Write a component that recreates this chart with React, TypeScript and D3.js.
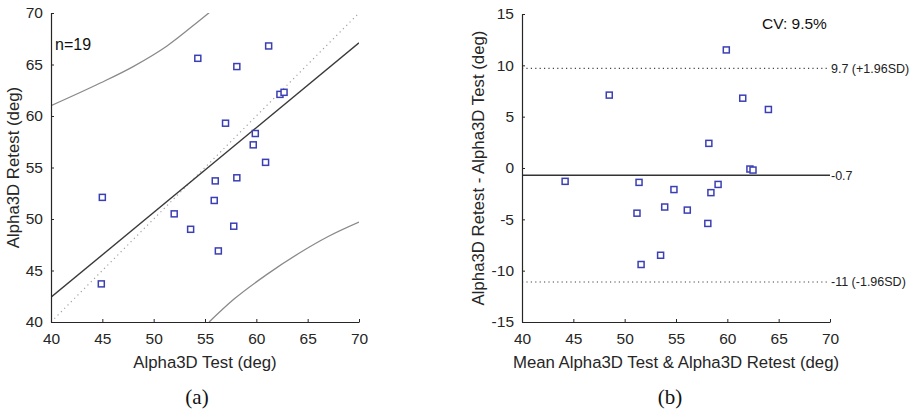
import React, { useRef, useEffect } from "react";
import * as d3 from "d3";

// (a) test vs retest
const testVals = [54.3, 58.1, 61.2, 62.3, 62.7, 57.0, 59.9, 59.7, 60.9, 56.0, 58.1, 45.0, 55.9, 52.0, 53.6, 57.8, 56.3, 44.9];
const retestVals = [65.6, 64.8, 66.8, 62.1, 62.3, 59.3, 58.3, 57.2, 55.5, 53.7, 54.0, 52.1, 51.8, 50.5, 49.0, 49.3, 46.9, 43.7];

const regX = [40, 70];
const regY = [42.4, 67.1];
const identX = [40, 70];
const identY = [40, 70];

const upperX = [40, 44.8, 48.0, 51.3, 54.5, 55.8];
const upperY = [61.0, 63.2, 64.8, 66.8, 69.3, 70.35];
const lowerX = [55.4, 57.8, 61.0, 64.2, 67.0, 70.0];
const lowerY = [40.0, 42.2, 44.6, 46.7, 48.3, 49.7];

// (b) Bland-Altman
const meanVals = [48.5, 59.9, 61.5, 64.0, 58.2, 62.2, 62.5, 44.2, 51.4, 54.8, 58.4, 59.1, 51.2, 53.9, 56.1, 58.1, 53.5, 51.6];
const diffVals = [7.1, 11.5, 6.8, 5.7, 2.4, -0.1, -0.2, -1.3, -1.4, -2.1, -2.4, -1.6, -4.4, -3.8, -4.1, -5.4, -8.5, -9.4];

const baLines = [9.7, -0.7, -11.1];
const baLabels = ["9.7 (+1.96SD)", "-0.7", "-11 (-1.96SD)"];

const xTicks = [40, 45, 50, 55, 60, 65, 70];
const yTicksA = [40, 45, 50, 55, 60, 65, 70];
const yTicksB = [-15, -10, -5, 0, 5, 10, 15];

const W = 916;
const H = 412;
const sans = "'Liberation Sans', Arial, sans-serif";
const axisColor = "#262626";
const markerColor = "#3b3fb4";

const App = () => {
  const container = useRef<SVGSVGElement>(null);

  useEffect(() => {
    const svg = d3.select(container.current);
    svg.selectAll("*").remove();

    const drawAxes = (g, xScale, yScale, yTicks, xTitle, yTitle, yTitleX, caption) => {
      const fmt = (d) => String(d);
      const xaxis = d3.axisBottom(xScale).tickValues(xTicks).tickFormat(fmt).tickSizeInner(-3).tickSizeOuter(0).tickPadding(8);
      const yaxis = d3.axisLeft(yScale).tickValues(yTicks).tickFormat(fmt).tickSizeInner(-3).tickSizeOuter(0).tickPadding(8);
      const [y0] = yScale.range();
      const [x0, x1] = xScale.range();

      const xg = g.append("g").attr("transform", `translate(0,${y0})`).call(xaxis);
      const yg = g.append("g").attr("transform", `translate(${x0},0)`).call(yaxis);
      [xg, yg].forEach((a) => {
        a.select(".domain").attr("stroke", axisColor).attr("stroke-width", 1.2);
        a.selectAll(".tick line").attr("stroke", axisColor);
        a.selectAll(".tick text").attr("fill", axisColor).style("font-family", sans).style("font-size", "15.5px");
      });
      xg.selectAll(".tick text").attr("dy", "0.9em");

      g.append("text")
        .attr("x", (x0 + x1) / 2)
        .attr("y", 368)
        .attr("text-anchor", "middle")
        .attr("fill", axisColor)
        .style("font-family", sans)
        .style("font-size", "16.8px")
        .text(xTitle);

      const [yb, yt] = yScale.range();
      g.append("text")
        .attr("transform", `translate(${yTitleX},${(yb + yt) / 2}) rotate(-90)`)
        .attr("text-anchor", "middle")
        .attr("dy", "0.35em")
        .attr("fill", axisColor)
        .style("font-family", sans)
        .style("font-size", "16.8px")
        .text(yTitle);

      g.append("text")
        .attr("x", caption.x)
        .attr("y", 404)
        .attr("text-anchor", "middle")
        .attr("fill", "#111")
        .style("font-family", "'Liberation Serif', 'DejaVu Serif', serif")
        .style("font-size", "21px")
        .text(caption.text);
    };

    const squares = (g, xs, ys, xScale, yScale) => {
      g.selectAll(".pt")
        .data(xs.map((x, i) => ({ x, y: ys[i] })))
        .join("rect")
        .attr("class", "pt")
        .attr("x", (d) => xScale(d.x) - 3)
        .attr("y", (d) => yScale(d.y) - 3)
        .attr("width", 6)
        .attr("height", 6)
        .attr("fill", "white")
        .attr("stroke", markerColor)
        .attr("stroke-width", 1.5);
    };

    // ---- (a)
    const xA = d3.scaleLinear().domain([40, 70]).range([51, 359]);
    const yA = d3.scaleLinear().domain([40, 70]).range([322, 13]);
    const gA = svg.append("g");

    svg.append("clipPath").attr("id", "clipA").append("rect")
      .attr("x", 51).attr("y", 13).attr("width", 308).attr("height", 309);

    const lineA = d3.line<[number, number]>().x((d) => xA(d[0])).y((d) => yA(d[1]));
    const curveA = d3.line<[number, number]>().x((d) => xA(d[0])).y((d) => yA(d[1])).curve(d3.curveMonotoneX);
    const plotA = gA.append("g").attr("clip-path", "url(#clipA)");

    plotA.append("path")
      .attr("d", lineA(identX.map((x, i) => [x, identY[i]])))
      .attr("fill", "none").attr("stroke", "#a0a0a0").attr("stroke-width", 1.2).attr("stroke-dasharray", "1.2,3.5");
    plotA.append("path")
      .attr("d", curveA(upperX.map((x, i) => [x, upperY[i]])))
      .attr("fill", "none").attr("stroke", "#8a8a8a").attr("stroke-width", 1.3);
    plotA.append("path")
      .attr("d", curveA(lowerX.map((x, i) => [x, lowerY[i]])))
      .attr("fill", "none").attr("stroke", "#8a8a8a").attr("stroke-width", 1.3);
    plotA.append("path")
      .attr("d", lineA(regX.map((x, i) => [x, regY[i]])))
      .attr("fill", "none").attr("stroke", "#3a3a3a").attr("stroke-width", 1.4);

    squares(gA, testVals, retestVals, xA, yA);
    drawAxes(gA, xA, yA, yTicksA, "Alpha3D Test (deg)", "Alpha3D Retest (deg)", 13, { x: 197, text: "(a)" });

    gA.append("text")
      .attr("x", 55).attr("y", 50)
      .attr("fill", "#111")
      .style("font-family", sans).style("font-size", "16px")
      .text("n=19");

    // ---- (b)
    const xB = d3.scaleLinear().domain([40, 70]).range([522, 830]);
    const yB = d3.scaleLinear().domain([-15, 15]).range([322, 14]);
    const gB = svg.append("g");

    gB.selectAll(".ba-line")
      .data(baLines)
      .join("line")
      .attr("class", "ba-line")
      .attr("x1", xB(40)).attr("x2", xB(70))
      .attr("y1", (d) => yB(d)).attr("y2", (d) => yB(d))
      .attr("stroke", (d, i) => (i === 1 ? "#333" : "#444"))
      .attr("stroke-width", (d, i) => (i === 1 ? 1.4 : 1.1))
      .attr("stroke-dasharray", (d, i) => (i === 1 ? null : "1.2,3.2"));

    gB.selectAll(".ba-label")
      .data(baLines)
      .join("text")
      .attr("class", "ba-label")
      .attr("x", xB(70) + 1)
      .attr("y", (d) => yB(d))
      .attr("dy", "0.35em")
      .attr("fill", "#222")
      .style("font-family", sans).style("font-size", "12.5px")
      .text((d, i) => baLabels[i]);

    squares(gB, meanVals, diffVals, xB, yB);
    drawAxes(gB, xB, yB, yTicksB, "Mean Alpha3D Test & Alpha3D Retest (deg)", "Alpha3D Retest - Alpha3D Test (deg)", 478, { x: 670, text: "(b)" });

    gB.append("text")
      .attr("x", 762).attr("y", 29)
      .attr("fill", "#111")
      .style("font-family", sans).style("font-size", "15.5px")
      .text("CV: 9.5%");
  }, []);

  return (
    <svg
      ref={container}
      width={W}
      height={H}
      style={{ position: "absolute", left: 0, top: 0, background: "white" }}
    />
  );
};

export default App;
